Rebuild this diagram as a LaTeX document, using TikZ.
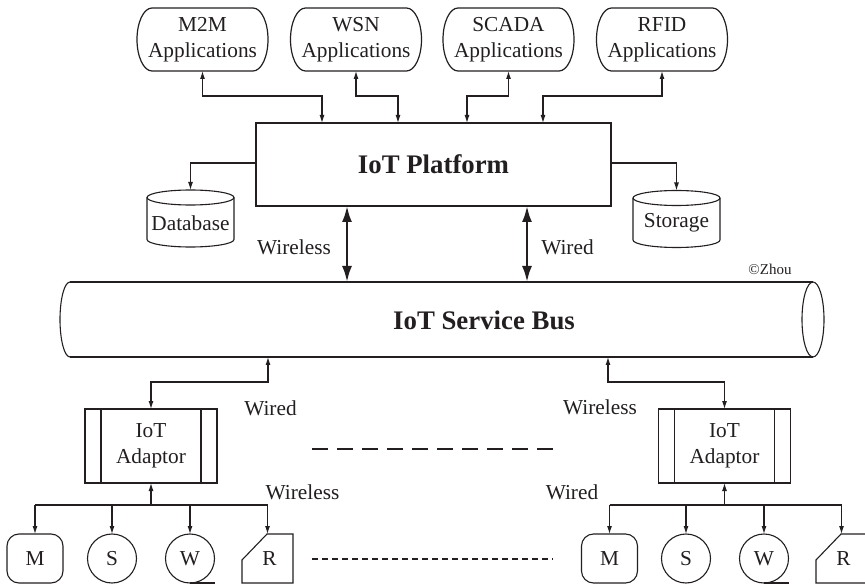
\documentclass[tikz,border=0pt]{standalone}
\usepackage{fontspec}
\setmainfont{Liberation Serif}
\usetikzlibrary{arrows.meta,calc}
\definecolor{ink}{HTML}{231F20}
\begin{document}
\begin{tikzpicture}[x=1pt,y=-1pt,
  every node/.style={text=ink, outer sep=0pt},
  lw/.style={draw=ink, line width=1.1pt},
  txt/.style={font=\fontsize{21.3}{26}\selectfont, align=center, inner sep=0pt},
  bld/.style={font=\fontsize{26.8}{30}\selectfont\bfseries, inner sep=0pt},
  app/.style={txt, minimum width=131, minimum height=63},
  platbox/.style={draw=ink, line width=2pt, minimum width=355, minimum height=83, bld},
  cylbox/.style={minimum width=87, minimum height=57},
  adapt/.style={txt, draw=ink, line width=1.1pt, minimum width=132, minimum height=74},
  dev/.style={txt, minimum width=56, minimum height=49},
  devM/.style={dev, draw=ink, line width=1.1pt, rounded corners=12pt},
  devC/.style={txt, draw=ink, line width=1.1pt, circle, minimum size=49},
  devR/.style={txt, minimum width=51, minimum height=49},
  arr/.style={draw=ink, line width=1.1pt, -{Latex[length=8pt,width=5pt]}},
  biarr/.style={draw=ink, line width=1.1pt, {Latex[length=8pt,width=5pt]}-{Latex[length=8pt,width=5pt]}},
  tharr/.style={draw=ink, line width=2.4pt, {Latex[length=16pt,width=10pt]}-{Latex[length=16pt,width=10pt]}}
]
\useasboundingbox (0,0) rectangle (865,585);
\fill[white] (0,0) rectangle (865,585);

% application nodes
\node[app] (a1) at (202.5,39.5) {M2M\\Applications};
\node[app] (a2) at (356,39.5) {WSN\\Applications};
\node[app] (a3) at (508.5,39.5) {SCADA\\Applications};
\node[app] (a4) at (662,39.5) {RFID\\Applications};
\foreach \n in {a1,a2,a3,a4}
  \draw[lw, line width=1.2pt] ($(\n.north west)+(15,0)$) -- ($(\n.north east)+(-15,0)$)
    arc[start angle=90,end angle=-90,x radius=15pt,y radius=31.5pt]
    -- ($(\n.south west)+(15,0)$)
    arc[start angle=270,end angle=90,x radius=15pt,y radius=31.5pt] -- cycle;

% platform
\node[platbox] (plat) at (433.5,164.5) {IoT Platform};

\draw[biarr] (a1.south) |- ($(plat.north west)+(66,-27)$) -- ($(plat.north west)+(66,0)$);
\draw[biarr] (a2.south) |- ($(plat.north west)+(142,-27)$) -- ($(plat.north west)+(142,0)$);
\draw[biarr] (a3.south) |- ($(plat.north west)+(211,-27)$) -- ($(plat.north west)+(211,0)$);
\draw[biarr] (a4.south) |- ($(plat.north west)+(287,-27)$) -- ($(plat.north west)+(287,0)$);

% database and storage
\node[cylbox] (db) at (190.5,218.5) {};
\node[cylbox] (st) at (676.5,219) {};
\foreach \n in {db,st}{
  \draw[lw] ($(\n.north west)+(0,7.5)$) -- ($(\n.south west)+(0,-7.5)$)
    arc[start angle=180,end angle=360,x radius=43.5pt,y radius=7.5pt]
    -- ($(\n.north east)+(0,7.5)$);
  \draw[lw] ($(\n.north)+(0,7.5)$) ellipse[x radius=43.5pt,y radius=7.5pt];
}
\node[txt] (dbl) at (190.5,223) {Database};
\node[txt] (stl) at (676.5,223) {Storage};
\draw[arr] ($(plat.west)+(0,-1.5)$) -| (db.north);
\draw[arr] ($(plat.east)+(0,-1.5)$) -| (st.north);

% bus
\node[minimum width=743, minimum height=75, inner sep=0pt] (bus) at (441.5,319.5) {};
\draw[lw] (bus.north west) -- (bus.north east);
\draw[lw] (bus.south west) -- (bus.south east);
\draw[lw] (bus.north west) arc[start angle=90,end angle=270,x radius=10pt,y radius=37.5pt];
\draw[lw] (bus.east) ellipse[x radius=11pt,y radius=37.5pt];
\node[bld] (busl) at (484,320) {IoT Service Bus};

\draw[tharr] ($(plat.south west)+(91,0)$) coordinate (w1) -- (w1 |- bus.north);
\draw[tharr] ($(plat.south west)+(271,0)$) coordinate (w2) -- (w2 |- bus.north);
\node[txt] (lw1) at (294,247) {Wireless};
\node[txt] (lw2) at (567.5,247) {Wired};
\node[font=\fontsize{15}{17}\selectfont, inner sep=0pt] (cz) at (770,269) {\textcopyright Zhou};

% adaptors
\node[adapt] (adL) at (151,446) {IoT\\Adaptor};
\node[adapt] (adR) at (724.5,446) {IoT\\Adaptor};
\foreach \n in {adL,adR}
  \draw[draw=ink, line width=1.8pt] ($(\n.north west)+(16,0)$) rectangle ($(\n.south east)+(-16,0)$);

\draw[biarr] (adL.north) -- ++(0,-27) -| ($(bus.south west)+(198,0)$);
\draw[biarr] (adR.north) -- ++(0,-27) -| ($(bus.south west)+(538,0)$);

\node[txt] (l3) at (270.5,408) {Wired};
\node[txt] (l4) at (302.5,492) {Wireless};
\node[txt] (l5) at (600,407) {Wireless};
\node[txt] (l6) at (572,492) {Wired};

% devices
\node[devM] (mL) at (35,558.5) {M};
\node[devC] (sL) at (112,558.5) {S};
\node[devC] (wL) at (190,558.5) {W};
\node[devR] (rL) at (267.5,558.5) {\hspace{4pt}R};
\node[devM] (mR) at (609.5,558.5) {M};
\node[devC] (sR) at (686,558.5) {S};
\node[devC] (wR) at (764,558.5) {W};
\node[devR] (rR) at (841.5,558.5) {\hspace{4pt}R};
\foreach \n in {wL,wR} \draw[lw] (\n.south) -- ++(25,0);
\foreach \n in {rL,rR}
  \draw[lw] ($(\n.north west)+(25,0)$) -- (\n.north east) -- (\n.south east)
    -- (\n.south west) -- ($(\n.north west)+(0,26)$) -- cycle;

\draw[arr] ($(adL.south)+(0,22)$) -- (adL.south);
\draw[lw] ($(mL.north)+(0,-29)$) -- ($(rL.north)+(0,-29)$);
\foreach \n in {mL,sL,wL,rL} \draw[arr] ($(\n.north)+(0,-29)$) -- (\n.north);
\draw[arr] ($(adR.south)+(0,22)$) -- (adR.south);
\draw[lw] ($(mR.north)+(0,-29)$) -- ($(rR.north)+(0,-29)$);
\foreach \n in {mR,sR,wR,rR} \draw[arr] ($(\n.north)+(0,-29)$) -- (\n.north);

% dashed separators
\coordinate (d1a) at (312,449); \coordinate (d1b) at (553,449);
\coordinate (d2a) at (312,559); \coordinate (d2b) at (553,559);
\draw[draw=ink, line width=2.8pt, dash pattern=on 16pt off 9pt] (d1a) -- (d1b);
\draw[draw=ink, line width=1.6pt, dash pattern=on 6pt off 4pt] (d2a) -- (d2b);
\end{tikzpicture}
\end{document}
